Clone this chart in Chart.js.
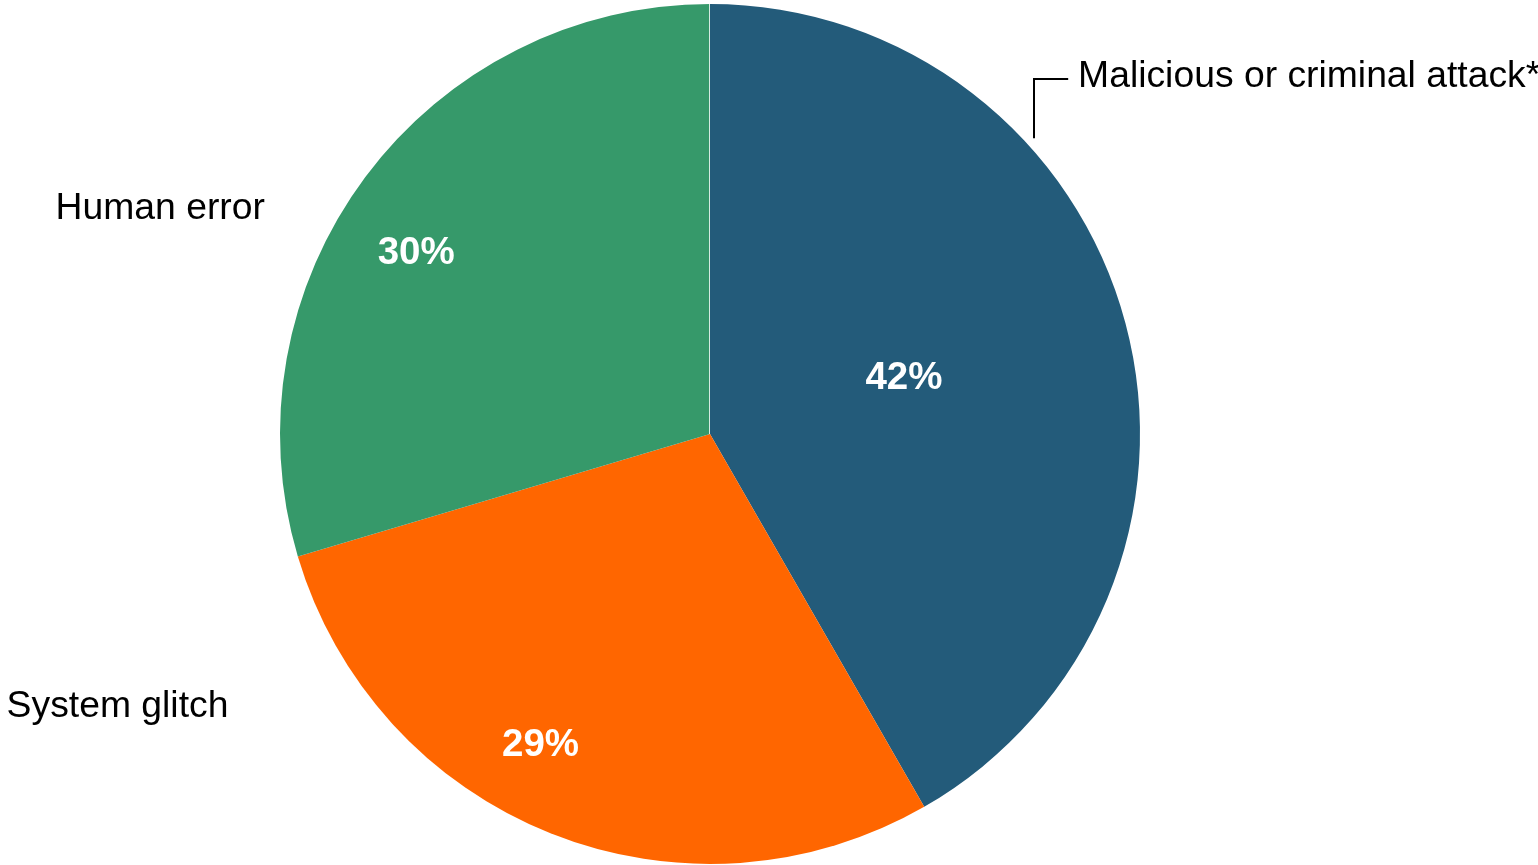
<!DOCTYPE html>
<html>
<head>
<meta charset="utf-8">
<script src="https://cdn.jsdelivr.net/npm/chart.js@4/dist/chart.umd.min.js"></script>
<style>
    html, body { margin: 0; padding: 0; background: #fff; }
    canvas { display: block; }
</style>
</head>
<body>
<canvas id="pieChart" width="1538" height="865"></canvas>
<script>
// Data
const categories = ['Malicious or criminal attack*', 'System glitch', 'Human error'];
const shares = [41.7, 28.7, 29.6];
const sliceColors = ['#235B7A', '#FF6600', '#36996A'];

// Label placement, in units of the pie radius (layout only)
const pctPlacement = [
    { dAngle: -1.0, dist: 0.469 },
    { dAngle: 6.8, dist: 0.824 },
    { dAngle: -5.15, dist: 0.802 }
];
const FONT = '"Liberation Sans", Arial, Helvetica, sans-serif';

const labelPlugin = {
    id: 'pieLabels',
    afterDraw(chart) {
        const ctx = chart.ctx;
        const meta = chart.getDatasetMeta(0);
        const first = meta.data[0];
        const cx = first.x, cy = first.y, r = first.outerRadius;

        ctx.save();
        // thin white seam at 12 o'clock
        ctx.strokeStyle = 'rgba(255,255,255,0.8)';
        ctx.lineWidth = 1;
        ctx.beginPath();
        ctx.moveTo(cx - 0.5, cy);
        ctx.lineTo(cx - 0.5, cy - r);
        ctx.stroke();

        // percentages inside the slices
        ctx.fillStyle = '#fff';
        ctx.font = 'bold 38.5px ' + FONT;
        ctx.textAlign = 'center';
        ctx.textBaseline = 'middle';
        meta.data.forEach((arc, i) => {
            const p = pctPlacement[i];
            const a = (arc.startAngle + arc.endAngle) / 2 + p.dAngle * Math.PI / 180;
            ctx.fillText(Math.round(shares[i]) + '%', cx + Math.cos(a) * r * p.dist, cy + Math.sin(a) * r * p.dist);
        });

        // category labels outside
        ctx.fillStyle = '#000';
        ctx.font = '37.3px ' + FONT;

        // Malicious: leader line from the rim up and to the right
        const la = -42.4 * Math.PI / 180;
        const sx = Math.round(cx + Math.cos(la) * r * 1.02);
        const sy = cy + Math.sin(la) * r * 1.02;
        const ty = Math.round(cy - 0.826 * r);
        ctx.strokeStyle = '#000';
        ctx.lineWidth = 2;
        ctx.beginPath();
        ctx.moveTo(sx, sy);
        ctx.lineTo(sx, ty);
        ctx.lineTo(cx + 0.833 * r, ty);
        ctx.stroke();
        ctx.textAlign = 'left';
        ctx.fillText(categories[0], cx + 0.856 * r, cy - 0.830 * r);

        ctx.textAlign = 'right';
        ctx.fillText(categories[2], cx - 1.035 * r, cy - 0.523 * r);
        ctx.fillText(categories[1], cx - 1.12 * r, cy + 0.635 * r);
        ctx.restore();
    }
};

new Chart(document.getElementById('pieChart'), {
    type: 'pie',
    data: {
        labels: categories,
        datasets: [{
            data: shares,
            backgroundColor: sliceColors,
            borderWidth: 0,
            hoverOffset: 0
        }]
    },
    options: {
        responsive: false,
        animation: false,
        devicePixelRatio: 1,
        layout: { padding: { top: 4, bottom: 1, left: 0, right: 118 } },
        plugins: {
            legend: { display: false },
            tooltip: { enabled: false }
        }
    },
    plugins: [labelPlugin]
});
</script>
</body>
</html>
